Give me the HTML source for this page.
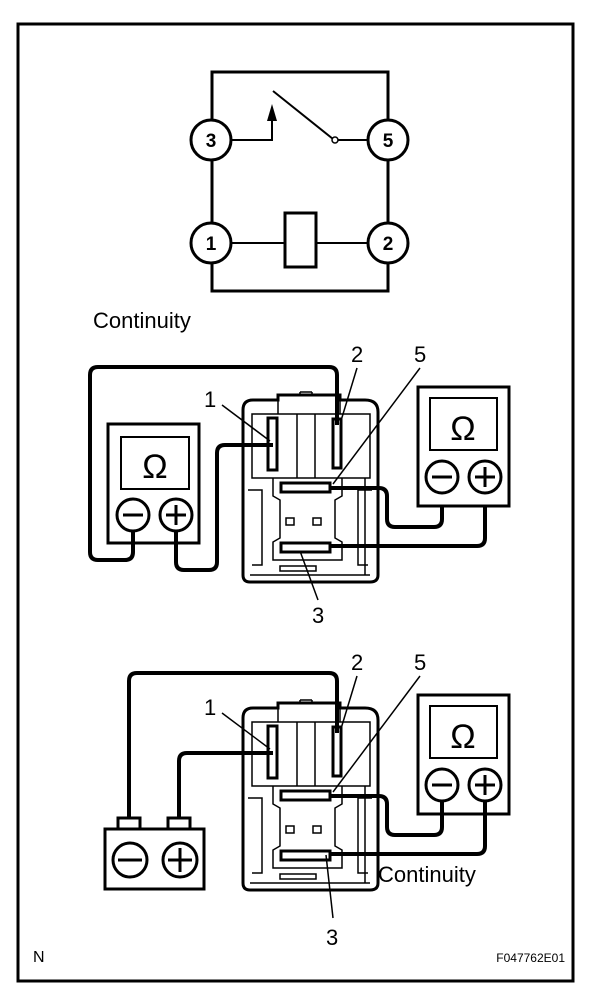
<!DOCTYPE html>
<html><head><meta charset="utf-8"><style>
html,body{margin:0;padding:0;background:#fff;}
svg{display:block;}
text{font-family:"Liberation Sans",Arial,sans-serif;fill:#000;}
</style></head><body>
<svg width="608" height="1004" viewBox="0 0 608 1004" xmlns="http://www.w3.org/2000/svg">
<rect x="18" y="24" width="555" height="957" fill="none" stroke="#000" stroke-width="3"/>

<!-- schematic -->
<g fill="none" stroke="#000" stroke-width="3">
<rect x="212" y="72" width="176" height="219"/>
<rect x="285" y="213" width="31" height="54" fill="#fff"/>
<line x1="231" y1="243" x2="285" y2="243" stroke-width="2"/>
<line x1="316" y1="243" x2="368" y2="243" stroke-width="2"/>
<polyline points="231,140 272,140 272,118" stroke-width="2"/>
<line x1="273" y1="91" x2="333" y2="139" stroke-width="2"/>
<line x1="338" y1="140" x2="368" y2="140" stroke-width="2"/>
</g>
<polygon points="272,104 267,121 277,121" fill="#000"/>
<circle cx="335" cy="140" r="3" fill="#fff" stroke="#000" stroke-width="1.5"/>
<g fill="#fff" stroke="#000" stroke-width="3">
<circle cx="211" cy="140" r="20"/><circle cx="388" cy="140" r="20"/>
<circle cx="211" cy="243" r="20"/><circle cx="388" cy="243" r="20"/>
</g>
<g font-size="19" font-weight="bold" text-anchor="middle">
<text x="211" y="147">3</text><text x="388" y="147">5</text>
<text x="211" y="250">1</text><text x="388" y="250">2</text>
</g>
<text x="93" y="328" font-size="22">Continuity</text>

<defs>
<g id="relay">
<path d="M243,410 Q243,400 253,400 L278,400 L278,395 L340,395 L340,400 L365,400 Q378,400 378,412 L378,575 Q378,582 370,582 L250,582 Q243,582 243,575 Z" fill="#fff" stroke="#000" stroke-width="3"/>
<g fill="none" stroke="#000" stroke-width="1.5">
<rect x="252" y="414" width="118" height="64"/>
<line x1="297" y1="414" x2="297" y2="478"/><line x1="315" y1="414" x2="315" y2="478"/>
<line x1="278" y1="400" x2="278" y2="414"/><line x1="340" y1="400" x2="340" y2="414"/>
<path d="M273,478 L273,496 L280,500 L280,538 L273,542 L273,560 L342,560 L342,542 L335,538 L335,500 L342,496 L342,478"/>
<path d="M248,490 L262,490 L262,565 L252,565"/>
<path d="M372,490 L358,490 L358,565 L368,565"/>
<line x1="365" y1="478" x2="365" y2="575"/>
<rect x="280" y="566" width="36" height="5"/>
<line x1="250" y1="575" x2="370" y2="575"/>
<line x1="300" y1="395" x2="300" y2="392"/><line x1="312" y1="392" x2="300" y2="392"/><line x1="312" y1="392" x2="312" y2="395"/>
<rect x="286" y="518" width="8" height="7"/><rect x="313" y="518" width="8" height="7"/>
</g>
<rect x="268" y="418" width="9" height="52" fill="#fff" stroke="#000" stroke-width="3"/>
<rect x="333" y="419" width="8" height="49" fill="#fff" stroke="#000" stroke-width="3"/>
<rect x="281" y="483" width="49" height="9" fill="#fff" stroke="#000" stroke-width="3"/>
<rect x="281" y="543" width="49" height="9" fill="#fff" stroke="#000" stroke-width="3"/>
</g>
<g id="meter">
<rect x="418" y="387" width="91" height="119" fill="#fff" stroke="#000" stroke-width="3"/>
<rect x="430" y="398" width="67" height="52" fill="none" stroke="#000" stroke-width="2"/>
<text x="463" y="440" font-size="34" text-anchor="middle">Ω</text>
<circle cx="442" cy="477" r="16" fill="#fff" stroke="#000" stroke-width="3"/>
<circle cx="485" cy="477" r="16" fill="#fff" stroke="#000" stroke-width="3"/>
<line x1="432" y1="477" x2="452" y2="477" stroke="#000" stroke-width="3"/>
<line x1="475" y1="477" x2="495" y2="477" stroke="#000" stroke-width="3"/>
<line x1="485" y1="467" x2="485" y2="487" stroke="#000" stroke-width="3"/>
</g>
</defs>

<!-- middle section -->
<use href="#relay"/>
<rect x="108" y="424" width="91" height="119" fill="#fff" stroke="#000" stroke-width="3"/>
<rect x="121" y="437" width="68" height="52" fill="none" stroke="#000" stroke-width="2"/>
<text x="155" y="478" font-size="34" text-anchor="middle">Ω</text>
<g fill="none" stroke="#000" stroke-width="4" stroke-linejoin="round">
<path d="M133,531 L133,552 Q133,560 125,560 L98,560 Q90,560 90,552 L90,375 Q90,367 98,367 L329,367 Q337,367 337,375 L337,425"/>
<path d="M176,531 L176,562 Q176,570 184,570 L209,570 Q217,570 217,562 L217,453 Q217,445 225,445 L273,445"/>
<path d="M330,488 L379,488 Q387,488 387,496 L387,519 Q387,527 395,527 L434,527 Q442,527 442,519 L442,493"/>
<path d="M330,546 L477,546 Q485,546 485,538 L485,493"/>
</g>
<circle cx="133" cy="515" r="16" fill="#fff" stroke="#000" stroke-width="3"/>
<circle cx="176" cy="515" r="16" fill="#fff" stroke="#000" stroke-width="3"/>
<line x1="123" y1="515" x2="143" y2="515" stroke="#000" stroke-width="3"/>
<line x1="166" y1="515" x2="186" y2="515" stroke="#000" stroke-width="3"/>
<line x1="176" y1="505" x2="176" y2="525" stroke="#000" stroke-width="3"/>
<use href="#meter"/>
<g stroke="#000" stroke-width="1.5">
<line x1="222" y1="405" x2="270" y2="441"/>
<line x1="357" y1="368" x2="340" y2="424"/>
<line x1="420" y1="368" x2="333" y2="484"/>
<line x1="318" y1="600" x2="300" y2="551"/>
</g>
<g font-size="22">
<text x="204" y="407">1</text><text x="351" y="362">2</text><text x="414" y="362">5</text><text x="312" y="623">3</text>
</g>

<!-- bottom section -->
<g transform="translate(0,308)">
<use href="#relay"/>
<use href="#meter"/>
<g fill="none" stroke="#000" stroke-width="4" stroke-linejoin="round">
<path d="M330,488 L379,488 Q387,488 387,496 L387,519 Q387,527 395,527 L434,527 Q442,527 442,519 L442,493"/>
<path d="M330,546 L477,546 Q485,546 485,538 L485,493"/>
</g>
</g>
<g fill="none" stroke="#000" stroke-width="4" stroke-linejoin="round">
<path d="M129,818 L129,681 Q129,673 137,673 L329,673 Q337,673 337,681 L337,733"/>
<path d="M179,818 L179,761 Q179,753 187,753 L273,753"/>
</g>
<rect x="118" y="818" width="22" height="11" fill="#fff" stroke="#000" stroke-width="3"/>
<rect x="168" y="818" width="22" height="11" fill="#fff" stroke="#000" stroke-width="3"/>
<rect x="105" y="829" width="99" height="60" fill="#fff" stroke="#000" stroke-width="3"/>
<circle cx="130" cy="860" r="17" fill="#fff" stroke="#000" stroke-width="3"/>
<circle cx="180" cy="860" r="17" fill="#fff" stroke="#000" stroke-width="3"/>
<line x1="118" y1="860" x2="142" y2="860" stroke="#000" stroke-width="3"/>
<line x1="168" y1="860" x2="192" y2="860" stroke="#000" stroke-width="3"/>
<line x1="180" y1="848" x2="180" y2="872" stroke="#000" stroke-width="3"/>
<g stroke="#000" stroke-width="1.5">
<line x1="222" y1="713" x2="270" y2="749"/>
<line x1="357" y1="676" x2="340" y2="732"/>
<line x1="420" y1="676" x2="333" y2="792"/>
<line x1="333" y1="918" x2="326" y2="855"/>
</g>
<g font-size="22">
<text x="204" y="715">1</text><text x="351" y="670">2</text><text x="414" y="670">5</text><text x="326" y="945">3</text>
</g>
<text x="378" y="882" font-size="22">Continuity</text>

<text x="33" y="962" font-size="16">N</text>
<text x="565" y="962" font-size="12" text-anchor="end">F047762E01</text>
</svg>
</body></html>
